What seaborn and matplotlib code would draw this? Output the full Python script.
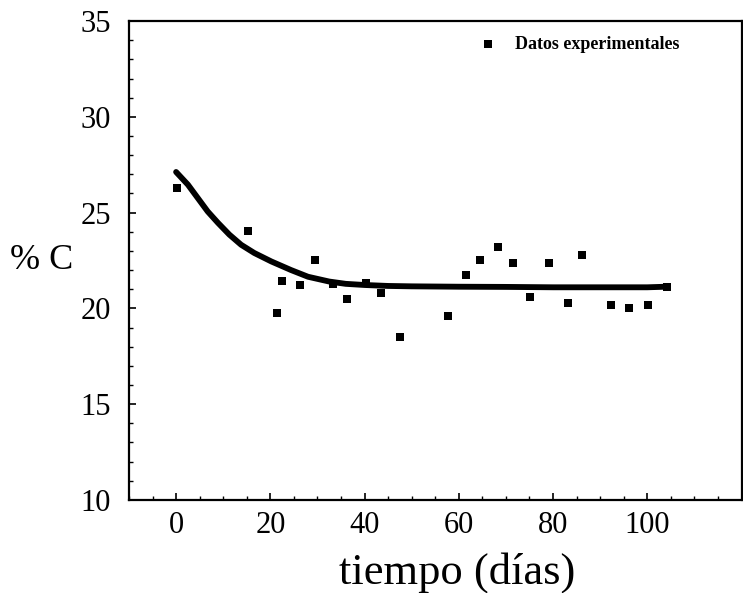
import numpy as np
import pandas as pd
import seaborn as sns
import matplotlib.pyplot as plt
from matplotlib.ticker import MultipleLocator

# datos experimentales (% C vs tiempo)
dias = [0.2, 15.3, 21.4, 22.4, 26.4, 29.4, 33.3, 36.2, 40.4, 43.4, 47.6,
        57.7, 61.6, 64.6, 68.4, 71.4, 75.2, 79.2, 83.2, 86.2, 92.2, 96.2,
        100.1, 104.1]
pct_c = [26.3, 24.05, 19.75, 21.45, 21.2, 22.5, 21.25, 20.5, 21.3, 20.8, 18.5,
         19.6, 21.75, 22.5, 23.2, 22.35, 20.6, 22.35, 20.3, 22.8, 20.15, 20.0,
         20.15, 21.1]

# curva ajustada
curva_x = [0, 2.5, 4.6, 6.7, 8.9, 11.3, 13.8, 16.6, 20.2, 24.4, 28, 32.5,
           36, 40, 45, 50, 60, 70, 80, 90, 100, 104]
curva_y = [27.12, 26.46, 25.76, 25.06, 24.46, 23.85, 23.32, 22.89, 22.45,
           22.0, 21.65, 21.4, 21.28, 21.22, 21.17, 21.15, 21.13, 21.12, 21.1,
           21.1, 21.1, 21.13]

sns.set_style("ticks", {'text.color': 'black', 'axes.labelcolor': 'black',
                        'xtick.color': 'black', 'ytick.color': 'black',
                        'axes.edgecolor': 'black'})
plt.rcParams['font.family'] = ['Liberation Serif', 'DejaVu Serif']

df_pts = pd.DataFrame({'tiempo': dias, 'pc': pct_c})
df_fit = pd.DataFrame({'tiempo': curva_x, 'pc': curva_y})

fig = plt.figure(figsize=(7.43, 5.93), dpi=100)
ax = fig.add_axes([0.1736, 0.157, 0.8244, 0.8075])

sns.lineplot(data=df_fit, x='tiempo', y='pc', ax=ax, color='black',
             linewidth=4.2, legend=False, solid_capstyle='round',
             solid_joinstyle='round')
sns.scatterplot(data=df_pts, x='tiempo', y='pc', ax=ax, marker='s', s=34,
                color='black', edgecolor='black', linewidth=0,
                label='Datos experimentales', zorder=3)

ax.set_xlim(-10, 120)
ax.set_ylim(10, 35)
ax.set_xticks([0, 20, 40, 60, 80, 100])
ax.xaxis.set_minor_locator(MultipleLocator(5))
ax.yaxis.set_major_locator(MultipleLocator(5))
ax.yaxis.set_minor_locator(MultipleLocator(1))

ax.tick_params(axis='both', which='major', direction='in', length=5, width=1.2,
               labelsize=22, colors='black')
ax.tick_params(axis='x', which='major', pad=8)
ax.tick_params(axis='y', which='major', pad=13)
ax.tick_params(axis='both', which='minor', direction='in', length=3, width=1)

for sp in ax.spines.values():
    sp.set_linewidth(1.6)
    sp.set_color('black')

ax.set_xlabel('tiempo (días)', fontsize=32)
ax.xaxis.set_label_coords(0.535, -0.108)
ax.set_ylabel('% C', fontsize=26, rotation=0, labelpad=28, va='center')

ax.legend(loc='center left', bbox_to_anchor=(0.574, 0.951),
          frameon=False, borderpad=0, borderaxespad=0,
          handlelength=0.8, handletextpad=1.1, markerscale=0.9,
          prop={'family': 'Liberation Serif', 'weight': 'bold', 'size': 13})

fig.savefig('out.png', dpi=100)
